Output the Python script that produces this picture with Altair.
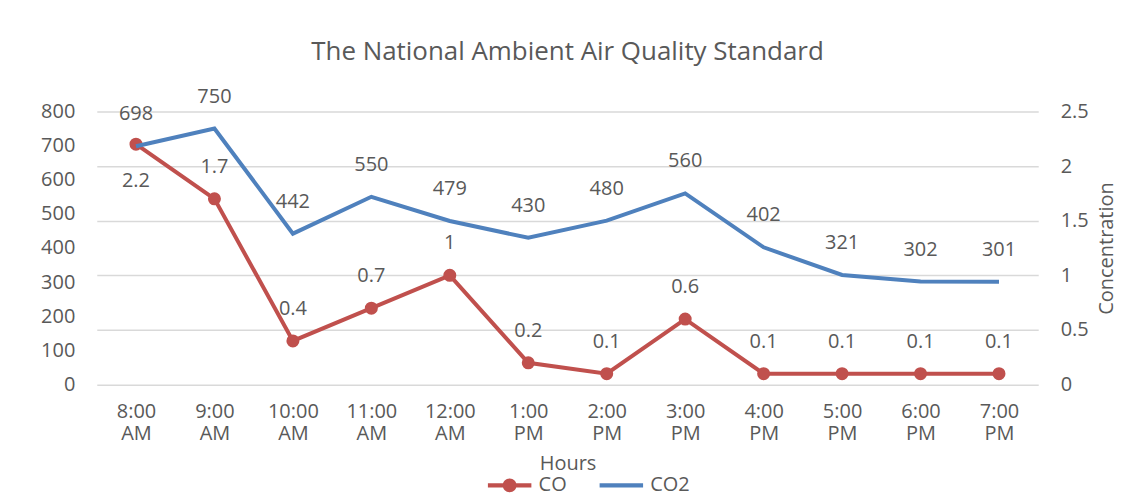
import altair as alt
import pandas as pd

hours = ["8:00 AM", "9:00 AM", "10:00 AM", "11:00 AM", "12:00 AM", "1:00 PM",
         "2:00 PM", "3:00 PM", "4:00 PM", "5:00 PM", "6:00 PM", "7:00 PM"]
co2 = [698, 750, 442, 550, 479, 430, 480, 560, 402, 321, 302, 301]
co = [2.2, 1.7, 0.4, 0.7, 1, 0.2, 0.1, 0.6, 0.1, 0.1, 0.1, 0.1]
series_names = ["CO", "CO2"]

df = pd.DataFrame({"Hours": hours, "CO2": co2, "CO": co})
df["co_label"] = [f"{v:g}" for v in co]
legend_df = pd.DataFrame({"series": series_names, "Hours": [hours[0]] * 2, "CO2": [0, 0]})

FONT = "Open Sans"
TXT = "#595959"
RED = "#C0504D"
BLUE = "#4F81BD"
GRID = "#D9D9D9"

CO_PATH = ("M-1,-0.1L1,-0.1L1,0.1L-1,0.1Z"
           "M-0.32,0A0.32,0.32 0 1,1 0.32,0A0.32,0.32 0 1,1 -0.32,0Z")
LINE_PATH = "M-1,-0.1L1,-0.1L1,0.1L-1,0.1Z"

x = alt.X("Hours:N", sort=hours, title="Hours",
          axis=alt.Axis(labelAngle=0, labelExpr="split(datum.label, ' ')",
                        labelLineHeight=22, labelPadding=17, ticks=False,
                        domain=False, titlePadding=10, titleFontWeight="normal",
                        labelFont=FONT, labelFontSize=20, labelColor=TXT,
                        titleFont=FONT, titleFontSize=20, titleColor=TXT))

co_y = alt.Y("CO:Q", scale=alt.Scale(domain=[0, 2.5]),
             axis=alt.Axis(orient="right", title="Concentration", values=[0, 0.5, 1, 1.5, 2, 2.5],
                           format="~g", grid=True, gridColor=GRID, gridWidth=1.5,
                           ticks=False, domain=False, labelPadding=22, titlePadding=8,
                           titleFontWeight="normal", titleAngle=270, titleBaseline="top",
                           labelFont=FONT, labelFontSize=20, labelColor=TXT,
                           titleFont=FONT, titleFontSize=20, titleColor=TXT))
co2_y = alt.Y("CO2:Q", scale=alt.Scale(domain=[0, 800]),
              axis=alt.Axis(orient="left", title=None, values=list(range(0, 900, 100)),
                            grid=False, ticks=False, domain=False, labelPadding=22,
                            labelFont=FONT, labelFontSize=20, labelColor=TXT))

base = alt.Chart(df)

# CO on right axis
co_line = base.mark_line(strokeWidth=4, color=RED).encode(x=x, y=co_y)
co_pts = base.mark_circle(size=170, color=RED, opacity=1).encode(x=x, y=co_y)
co_txt_above = base.transform_filter(alt.datum.Hours != "8:00 AM").mark_text(
    dy=-32, fontSize=20, font=FONT, color=TXT).encode(x=x, y=co_y, text="co_label:N")
co_txt_below = base.transform_filter(alt.datum.Hours == "8:00 AM").mark_text(
    dy=37, fontSize=20, font=FONT, color=TXT).encode(x=x, y=co_y, text="co_label:N")
co_layer = alt.layer(co_line, co_pts, co_txt_above, co_txt_below)

# CO2 on left axis
co2_line = base.mark_line(strokeWidth=4, color=BLUE).encode(x=x, y=co2_y)
co2_txt = base.mark_text(dy=-32, fontSize=20, font=FONT, color=TXT).encode(
    x=x, y=co2_y, text="CO2:Q")
legend_pts = alt.Chart(legend_df).mark_point(filled=True, size=0, opacity=1).encode(
    x=x,
    y=co2_y,
    color=alt.Color("series:N", scale=alt.Scale(domain=series_names, range=[RED, BLUE]),
                    legend=alt.Legend(title=None, orient="none", direction="horizontal",
                                      legendX=392, legendY=353,
                                      symbolSize=1900, symbolStrokeWidth=0, symbolOpacity=1,
                                      labelFontSize=20, labelColor=TXT, labelFont=FONT,
                                      columnPadding=32, labelOffset=7)),
    shape=alt.Shape("series:N", scale=alt.Scale(domain=series_names,
                                                range=[CO_PATH, LINE_PATH]), legend=None),
)
co2_layer = alt.layer(co2_line, co2_txt, legend_pts)

chart = alt.layer(co_layer, co2_layer).resolve_scale(y="independent").properties(
    width=944, height=274,
    title=alt.TitleParams("The National Ambient Air Quality Standard", fontSize=26,
                          font=FONT, color=TXT, fontWeight="normal", offset=22),
    padding={"left": 32, "top": 30, "right": 2, "bottom": 2},
    background="white",
).configure_view(stroke=None)

chart.save("out.html", embed_options={"renderer": "svg", "actions": False})
